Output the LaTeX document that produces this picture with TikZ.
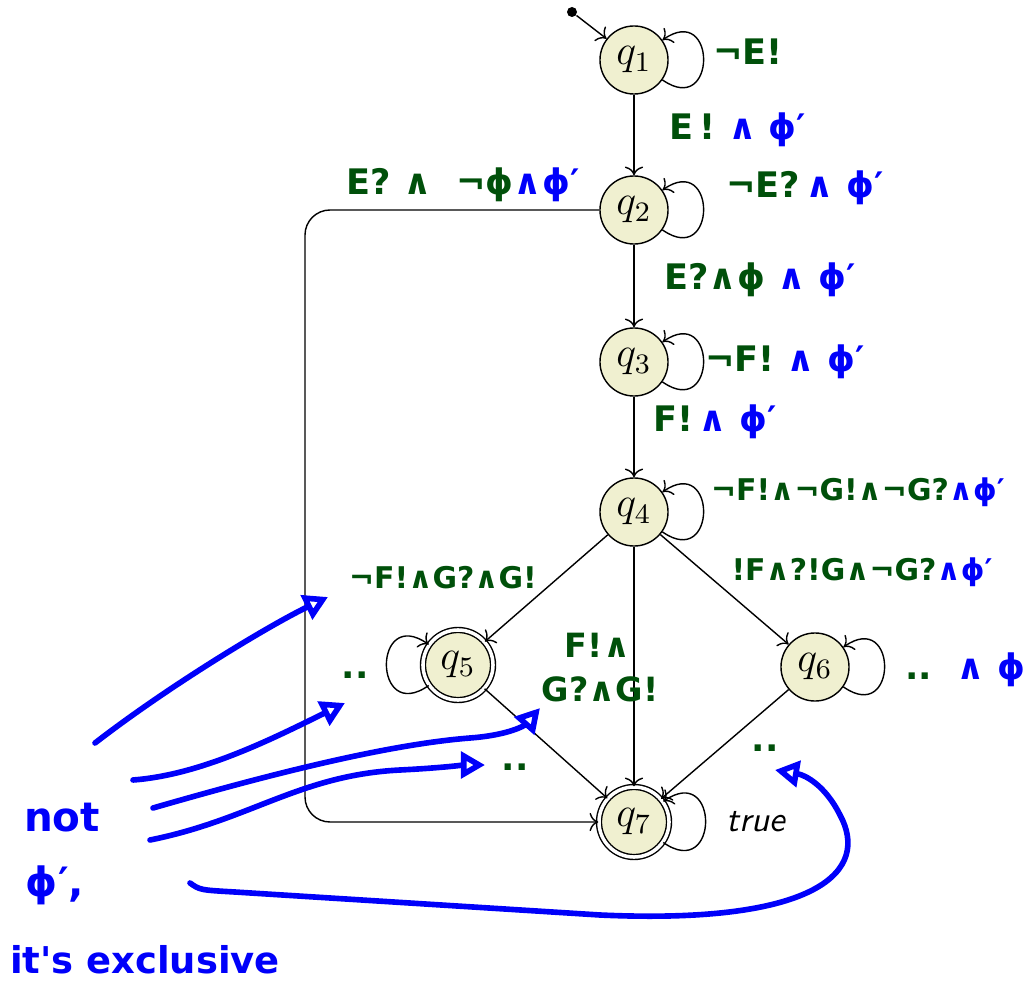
\documentclass[tikz,border=0pt]{standalone}
\usepackage{fontspec}
\usepackage{xcolor}
\usepackage{tikz}
\usetikzlibrary{arrows.meta, positioning}
\newfontfamily\handfont{DejaVu Sans}
\definecolor{hgreen}{RGB}{0,80,10}
\definecolor{hblue}{RGB}{0,0,250}
\definecolor{statefill}{RGB}{240,240,208}

\tikzset{
  state/.style={circle, draw, fill=statefill, minimum size=0.68cm, inner sep=0pt,
    font=\fontsize{12}{14}\selectfont},
  accept/.style={state, double, double distance=1pt, minimum size=0.70cm},
  selfloop/.style={looseness=4.3},
  glabel/.style={font=\handfont\bfseries\fontsize{10}{12}\selectfont, text=hgreen, inner sep=1pt},
  smalllabel/.style={glabel, font=\handfont\bfseries\fontsize{8.5}{10}\selectfont},
  bnote/.style={font=\handfont\bfseries\fontsize{11.5}{13}\selectfont, text=hblue, inner sep=1pt},
  hand/.style={draw=hblue, line width=1.6pt, line cap=round,
    -{Triangle[open, length=0.24cm, width=0.26cm, line width=1.6pt]}}
}
\newcommand{\bl}[1]{\textcolor{hblue}{#1}}

\begin{document}
\begin{tikzpicture}[>=To, x=0.01cm, y=0.01cm]
    \useasboundingbox (0,0) rectangle (1027,990);

    % 1. States
    \node[state]  (q1) at (634,930) {$q_1$};
    \node[state]  (q2) at (634,780) {$q_2$};
    \node[state]  (q3) at (634,628) {$q_3$};
    \node[state]  (q4) at (634,478) {$q_4$};
    \node[accept] (q5) at (458,325) {$q_5$};
    \node[state]  (q6) at (815,323) {$q_6$};
    \node[accept] (q7) at (634,168) {$q_7$};
    \node[circle, fill, inner sep=0pt, minimum size=0.1cm] (init) at (572,978) {};
    \coordinate (lft) at (305,480);

    % 2. Transitions
    \draw[->] (init) -- (q1);
    \draw[->] (q1) -- (q2);
    \draw[->] (q2) -- (q3);
    \draw[->] (q3) -- (q4);
    \draw[->] (q4) -- (q5);
    \draw[->] (q4) -- (q6);
    \draw[->] (q4) -- (q7);
    \draw[->] (q5) -- (q7);
    \draw[->] (q6) -- (q7);
    \draw[->, rounded corners=0.25cm] (q2) -| (lft) |- (q7);
    \draw[->] (q1) to[out=-35, in=35, selfloop] (q1);
    \draw[->] (q2) to[out=-35, in=35, selfloop] (q2);
    \draw[->] (q3) to[out=-35, in=35, selfloop] (q3);
    \draw[->] (q4) to[out=-35, in=35, selfloop] (q4);
    \draw[->] (q6) to[out=-35, in=35, selfloop] (q6);
    \draw[->] (q7) to[out=-35, in=35, selfloop] (q7);
    \draw[->] (q5) to[out=215, in=145, selfloop] (q5);
    \node[font=\sffamily\itshape\fontsize{10}{12}\selectfont] (ltrue) at (756,168) {true};

    % 3. Hand-written guards
    \node[glabel] (l11) at (748,938) {¬E!};
    \node[glabel] (l12) at (738,860) {E\,!\ \bl{∧ ϕ′}};
    \node[glabel] (l22) at (805,802) {¬E?\,\bl{∧ ϕ′}};
    \node[glabel] (l27) at (463,805) {E? ∧\ \ ¬ϕ\bl{∧ϕ′}};
    \node[glabel] (l23) at (760,710) {E?∧ϕ\ \bl{∧ ϕ′}};
    \node[glabel] (l33) at (785,628) {¬F!\ \bl{∧ ϕ′}};
    \node[glabel] (l34) at (715,568) {F!\,\bl{∧ ϕ′}};
    \node[smalllabel] (l44) at (858,498) {¬F!∧¬G!∧¬G?\bl{∧ϕ′}};
    \node[smalllabel] (l46) at (862,418) {!F∧?!G∧¬G?\bl{∧ϕ′}};
    \node[smalllabel] (l45) at (443,412) {¬F!∧G?∧G!};
    \node[glabel, align=left, font=\handfont\bfseries\fontsize{9.5}{12.5}\selectfont] (l47) at (600,322) {\ \ F!∧\\G?∧G!};
    \node[glabel] (l55) at (355,315) {..};
    \node[glabel] (l57) at (515,223) {..};
    \node[glabel] (l66) at (965,320) {..\ \ \bl{∧ ϕ}};
    \node[glabel] (l67) at (765,242) {..};

    % 4. Note on the left
    \node[bnote] (nnot) at (62,172) {not};
    \node[bnote] (nphi) at (55,105) {ϕ′,};
    \node[bnote, font=\handfont\bfseries\fontsize{10.5}{13}\selectfont] (nexc) at (145,30) {it's exclusive};
    \coordinate (a1) at (95,247);  \coordinate (b1) at (328,393);
    \coordinate (a2) at (133,210); \coordinate (b2) at (345,287);
    \coordinate (a3) at (153,182); \coordinate (b3) at (540,282);
    \coordinate (a4) at (150,150); \coordinate (b4) at (485,225);
    \coordinate (a5) at (190,107); \coordinate (b5) at (775,220);
    \draw[hand] (a1) .. controls (170,305) and (270,365) .. (b1);
    \draw[hand] (a2) .. controls (200,215) and (270,250) .. (b2);
    \draw[hand] (a3) .. controls (250,210) and (380,245) .. (470,252)
        .. controls (510,255) and (525,265) .. (b3);
    \draw[hand] (a4) .. controls (250,170) and (300,215) .. (400,220)
        .. controls (440,222) and (465,225) .. (b4);
    \draw[hand] (a5) .. controls (200,100) .. (235,98) -- (600,75)
        .. controls (820,65) and (870,120) .. (840,175)
        .. controls (825,205) and (805,215) .. (b5);
\end{tikzpicture}
\end{document}
